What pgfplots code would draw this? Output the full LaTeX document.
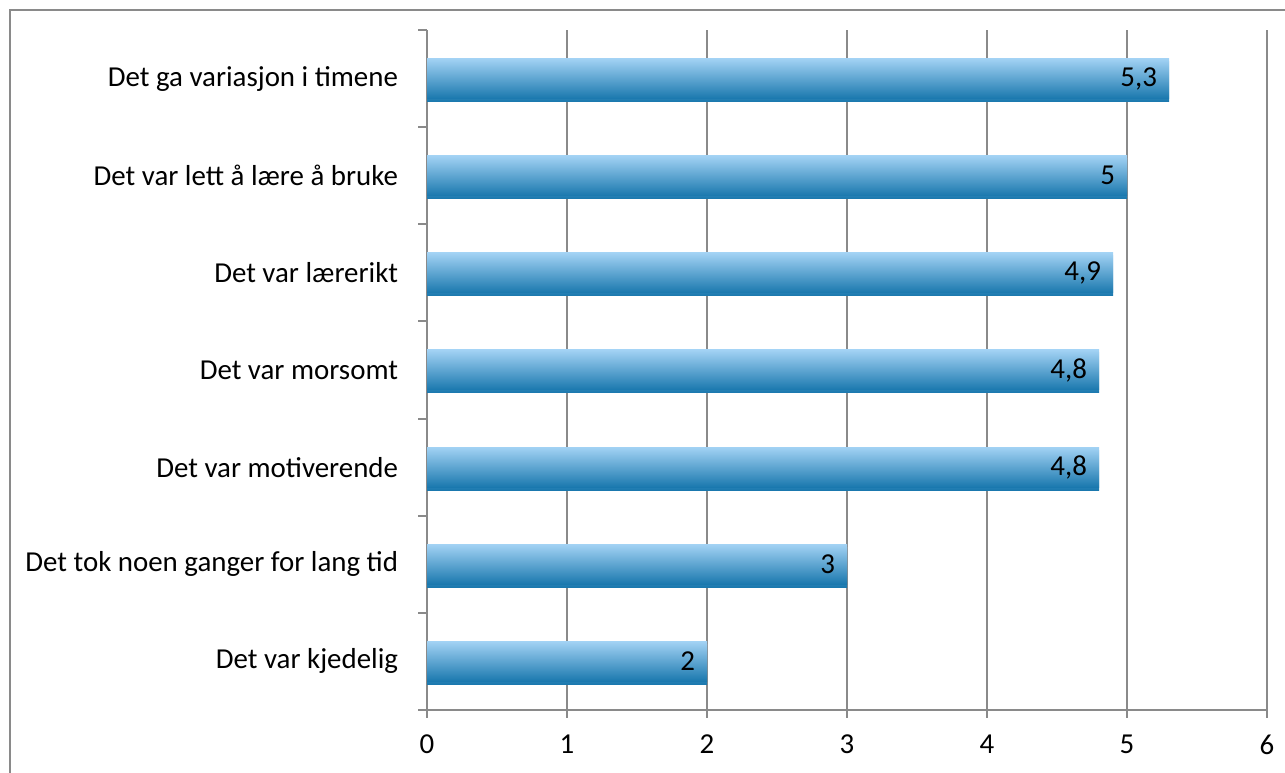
\documentclass[border=0pt]{standalone}
\usepackage{fontspec}
\setmainfont{Carlito}
\usepackage{pgfplots}
\pgfplotsset{compat=1.18}
\definecolor{barTop}{HTML}{A2D2F4}
\definecolor{barMid}{HTML}{6CB6E5}
\definecolor{barBot}{HTML}{1A78AE}
\definecolor{axGray}{HTML}{8A8A8A}
\begin{document}
\begin{tikzpicture}
\useasboundingbox (0,0) rectangle (642.5bp,386.5bp);
% outer chart frame (right and bottom edges fall outside the page)
\draw[axGray, line width=1bp] (5bp,-20bp) -- (5bp,381.5bp) -- (700bp,381.5bp);
\begin{axis}[
    at={(213.5bp,31.5bp)}, anchor=south west,
    scale only axis,
    width=420bp, height=340bp,
    xbar, bar width=20bp,
    xmin=0, xmax=6,
    ymin=-0.5, ymax=6.5,
    xtick={0,...,6},
    ytick={0,...,6},
    yticklabels={Det var kjedelig, Det tok noen ganger for lang tid, Det var motiverende, Det var morsomt, Det var lærerikt, Det var lett å lære å bruke, Det ga variasjon i timene},
    minor ytick={-0.5,0.5,...,6.5},
    axis x line*=bottom, axis y line*=left,
    axis line style={axGray, line width=1bp},
    tick style={axGray, line width=1bp},
    tick align=outside,
    major tick length=4bp,
    minor tick length=4.5bp,
    every major y tick/.style={draw=none},
    xmajorgrids,
    grid style={axGray, line width=1bp},
    tick label style={font=\fontsize{14.5}{16}\selectfont, black},
    yticklabel style={xshift=-7bp},
    xticklabel style={yshift=-5bp},
    nodes near coords,
    nodes near coords style={anchor=east, xshift=-2.5bp, font=\fontsize{14.5}{16}\selectfont, black, /pgf/number format/use comma},
    /pgf/number format/assume math mode=true,
    clip=false,
    onebar/.style={bar shift=0pt, draw=none,
        preaction={fill=black!7, transform canvas={yshift=-1.5bp}},
        top color=barTop, middle color=barMid, bottom color=barBot},
]
\addplot[onebar] coordinates {(2,0)};
\addplot[onebar] coordinates {(3,1)};
\addplot[onebar] coordinates {(4.8,2)};
\addplot[onebar] coordinates {(4.8,3)};
\addplot[onebar] coordinates {(4.9,4)};
\addplot[onebar] coordinates {(5,5)};
\addplot[onebar] coordinates {(5.3,6)};
\end{axis}
\end{tikzpicture}
\end{document}
